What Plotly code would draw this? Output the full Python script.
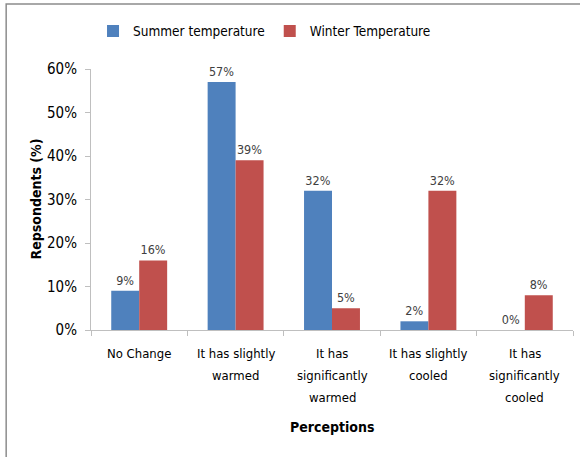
import plotly.graph_objects as go

categories = ["No Change", "It has slightly warmed", "It has significantly warmed",
              "It has slightly cooled", "It has significantly cooled"]
tick_lines = [["No Change"], ["It has slightly", "warmed"], ["It has", "significantly", "warmed"],
              ["It has slightly", "cooled"], ["It has", "significantly", "cooled"]]
summer = [9, 57, 32, 2, 0]
winter = [16, 39, 5, 32, 8]
y_ticks = [0, 10, 20, 30, 40, 50, 60]

FONT = "DejaVu Sans Condensed, sans-serif"
TXT = "#000000"

fig = go.Figure()
fig.add_trace(go.Bar(
    x=categories, y=summer, name="Summer temperature",
    marker=dict(color="#4F81BD", line=dict(width=0)),
    text=[f"{v}%" for v in summer], textposition="outside",
    textfont=dict(family=FONT, size=12.5, color="#404040"), cliponaxis=False,
))
fig.add_trace(go.Bar(
    x=categories, y=winter, name="Winter Temperature",
    marker=dict(color="#C0504D", line=dict(width=0)),
    text=[f"{v}%" for v in winter], textposition="outside",
    textfont=dict(family=FONT, size=12.5, color="#404040"), cliponaxis=False,
))

# multi-line category labels under each group
annotations = []
for cat, lines in zip(categories, tick_lines):
    for i, line in enumerate(lines):
        annotations.append(dict(
            x=cat, xref="x", y=0, yref="paper", xanchor="center", yanchor="middle",
            yshift=-23 - 22 * i, text=line, showarrow=False,
            font=dict(family=FONT, size=13, color=TXT),
        ))
annotations.append(dict(
    x=0.5, xref="paper", y=0, yref="paper", xanchor="center", yanchor="middle", yshift=-97,
    text="<b>Perceptions</b>", showarrow=False, font=dict(family=FONT, size=14, color=TXT),
))
annotations.append(dict(
    x=0, xref="paper", xshift=-56, y=0.5, yref="paper", xanchor="center", yanchor="middle",
    textangle=-90, text="<b>Repsondents (%)</b>", showarrow=False,
    font=dict(family=FONT, size=14, color=TXT),
))

fig.update_layout(
    width=580, height=457,
    margin=dict(l=91, r=7, t=69, b=127),
    paper_bgcolor="white", plot_bgcolor="white",
    barmode="group", bargap=0.42, bargroupgap=0,
    font=dict(family=FONT, size=13, color=TXT),
    showlegend=True,
    legend=dict(orientation="h", x=0.36, xanchor="center", y=1.145, yanchor="middle",
                font=dict(family=FONT, size=13.5, color=TXT), itemwidth=30,
                bgcolor="rgba(0,0,0,0)"),
    annotations=annotations,
    shapes=[dict(type="rect", xref="paper", yref="paper", x0=-0.176, x1=1.2, y0=-1, y1=1.249,
                 line=dict(color="#8c8c8c", width=1.5), layer="below")],
)
fig.update_xaxes(
    showticklabels=False, showline=True, linecolor="#BFBFBF", linewidth=1,
    ticks="outside", tickson="boundaries", ticklen=5, tickcolor="#BFBFBF",
    showgrid=False,
)
fig.update_yaxes(
    range=[0, 60], tickvals=y_ticks, ticktext=[f"{v}%" for v in y_ticks],
    showline=True, linecolor="#BFBFBF", linewidth=1, ticks="outside", ticklen=5,
    tickcolor="#BFBFBF", showgrid=False, zeroline=False, ticklabelstandoff=5,
    tickfont=dict(family=FONT, size=15, color=TXT),
)

fig.write_html("out.html")
